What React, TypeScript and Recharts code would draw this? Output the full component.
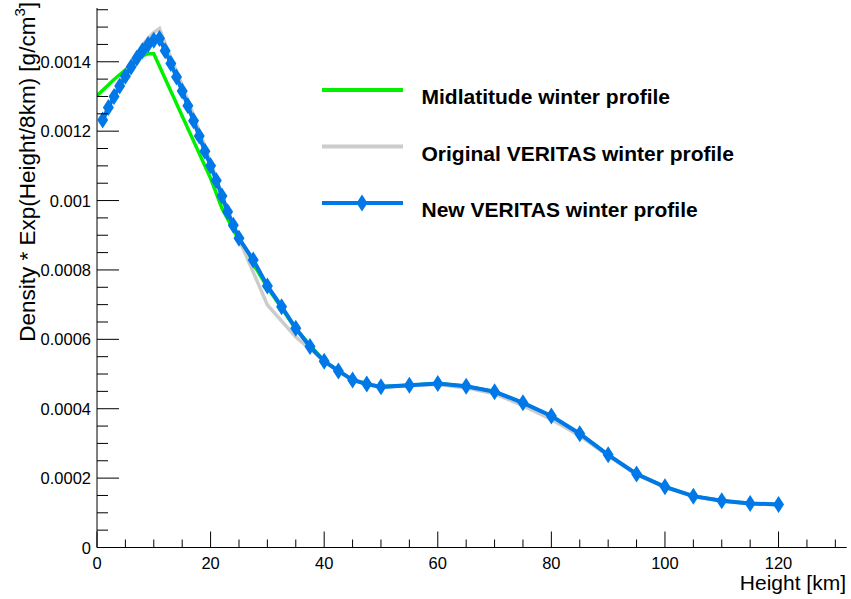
import { LineChart, Line, XAxis, YAxis, Legend } from "recharts";

// Midlatitude winter profile
const midHeight = [0, 3, 8, 9, 10, 20, 22, 25, 30, 35, 40, 45, 50, 55, 60, 65, 70, 75, 80, 85, 90, 95, 100, 105, 110, 115, 120];
const midDensity = [
    0.001302, 0.001349, 0.001418, 0.001423, 0.001423, 0.001064, 0.000978, 0.000885, 0.00075, 0.00063,
    0.000537, 0.000483, 0.000463, 0.000468, 0.000473, 0.000465, 0.000449, 0.000417, 0.000379, 0.000328,
    0.000267, 0.000212, 0.000175, 0.000148, 0.000135, 0.000127, 0.000124,
];

// Original VERITAS winter profile
const origHeight = [
    1, 2, 3, 4, 5, 6, 7, 8, 9, 10, 11, 12, 13, 14, 15, 16, 17, 18, 19, 20, 21, 22, 23, 24, 25,
    30, 35, 40, 45, 50, 55, 60, 65, 70, 75, 80, 85, 90, 95, 100, 105, 110, 115, 120,
];
const origDensity = [
    0.001235, 0.00127, 0.001305, 0.001338, 0.001368, 0.001397, 0.001424, 0.001448, 0.001468, 0.001484,
    0.001496, 0.001452, 0.001412, 0.001372, 0.001332, 0.001289, 0.001246, 0.001201, 0.001156, 0.001111,
    0.001065, 0.001018, 0.00097, 0.00093, 0.000889, 0.000699, 0.000607, 0.000537, 0.000482, 0.000462,
    0.000466, 0.00047, 0.00046, 0.000443, 0.000409, 0.000369, 0.000322, 0.000264, 0.00021, 0.000174,
    0.000147, 0.000134, 0.000126, 0.000123,
];

// New VERITAS winter profile
const newHeight = [
    1, 2, 3, 4, 5, 6, 7, 8, 9, 10, 11, 12, 13, 14, 15, 16, 17, 18, 19, 20, 21, 22, 23, 24, 25,
    27.5, 30, 32.5, 35, 37.5, 40, 42.5, 45, 47.5, 50, 55, 60, 65, 70, 75, 80, 85, 90, 95, 100, 105,
    110, 115, 120,
];
const newDensity = [
    0.001232, 0.001268, 0.0013, 0.00133, 0.001358, 0.001385, 0.00141, 0.001432, 0.00145, 0.001462,
    0.001467, 0.001432, 0.001395, 0.001356, 0.001316, 0.001273, 0.00123, 0.001186, 0.001142, 0.0011,
    0.001058, 0.001013, 0.000968, 0.000929, 0.000891, 0.000829, 0.000754, 0.000694, 0.000632, 0.000579,
    0.000537, 0.000509, 0.000483, 0.000471, 0.000463, 0.000468, 0.000473, 0.000465, 0.000449, 0.000417,
    0.000379, 0.000328, 0.000267, 0.000212, 0.000175, 0.000148, 0.000135, 0.000127, 0.000124,
];

const seriesNames = ["Midlatitude winter profile", "Original VERITAS winter profile", "New VERITAS winter profile"];
const seriesColors = ["#00f000", "#cccccc", "#0078e7"];

const xTicks = Array.from({ length: 27 }, (_, i) => i * 5);
const xLabels = ["0", "20", "40", "60", "80", "100", "120"];
const yTicks = Array.from({ length: 32 }, (_, i) => i * 0.00005);
const yLabels = ["0", "0.0002", "0.0004", "0.0006", "0.0008", "0.001", "0.0012", "0.0014"];

const toRows = (hs: number[], ds: number[]) => hs.map((h, i) => ({ h, d: ds[i] }));

const FONT = "'Liberation Sans', Arial, Helvetica, sans-serif";

const BottomTick = (props: any) => {
    const { x, y, index } = props;
    const major = index % 4 === 0;
    return (
        <g>
            <line x1={x} x2={x} y1={y} y2={y - (major ? 16 : 8)} stroke="#000" />
            {major && (
                <text x={x} y={y + 21} textAnchor="middle" fontSize={16.5} fontFamily={FONT} fill="#000">
                    {xLabels[index / 4]}
                </text>
            )}
        </g>
    );
};

const TopTick = (props: any) => {
    const { x, y, index } = props;
    const major = index % 4 === 0;
    return <line x1={x} x2={x} y1={y} y2={y + (major ? 16 : 8)} stroke="#000" />;
};

const LeftTick = (props: any) => {
    const { x, y, index } = props;
    const major = index % 4 === 0;
    return (
        <g>
            <line x1={x} x2={x + (major ? 22 : 11)} y1={y} y2={y} stroke="#000" />
            {major && (
                <text x={x - 6} y={y + 6} textAnchor="end" fontSize={16.5} fontFamily={FONT} fill="#000">
                    {yLabels[index / 4]}
                </text>
            )}
        </g>
    );
};

const RightTick = (props: any) => {
    const { x, y, index } = props;
    const major = index % 4 === 0;
    return <line x1={x} x2={x - (major ? 16 : 8)} y1={y} y2={y} stroke="#000" />;
};

const renderDiamond = (props: any) => {
    const { cx, cy, index } = props;
    return (
        <path
            key={`d-${index}`}
            d={`M${cx},${cy - 8.5}L${cx + 5.5},${cy}L${cx},${cy + 8.5}L${cx - 5.5},${cy}Z`}
            fill={seriesColors[2]}
        />
    );
};

const LegendBox = () => (
    <svg width={460} height={160}>
        {seriesNames.map((name, i) => {
            const y = 20 + i * 56.5;
            return (
                <g key={name}>
                    <line x1={22} x2={103} y1={y} y2={y} stroke={seriesColors[i]} strokeWidth={4} />
                    {i === 2 && <path d={`M62,${y - 8.5}L67.5,${y}L62,${y + 8.5}L56.5,${y}Z`} fill={seriesColors[2]} />}
                    <text x={121.5} y={y + 14} fontSize={21} fontWeight="bold" fontFamily={FONT} fill="#000">
                        {name}
                    </text>
                </g>
            );
        })}
    </svg>
);

export default function App() {
    return (
        <div style={{ position: "fixed", left: 0, top: 0, width: 851, height: 599, background: "#fff" }}>
            <LineChart width={851} height={599} margin={{ top: 8, right: 4.3, bottom: 0, left: 0 }}>
                <XAxis
                    xAxisId="main"
                    dataKey="h"
                    type="number"
                    domain={[0, 132]}
                    allowDataOverflow
                    ticks={xTicks}
                    interval={0}
                    height={51.5}
                    tickSize={0}
                    tickMargin={0}
                    tickLine={false}
                    axisLine={{ stroke: "#000" }}
                    tick={<BottomTick />}
                />
                <XAxis
                    xAxisId="top"
                    orientation="top"
                    type="number"
                    domain={[0, 132]}
                    allowDataOverflow
                    ticks={xTicks}
                    interval={0}
                    height={0}
                    tickSize={0}
                    tickMargin={0}
                    tickLine={false}
                    axisLine={{ stroke: "#000" }}
                    tick={<TopTick />}
                />
                <YAxis
                    yAxisId="main"
                    type="number"
                    domain={[0, 0.001555]}
                    allowDataOverflow
                    ticks={yTicks}
                    interval={0}
                    width={97}
                    tickSize={0}
                    tickMargin={0}
                    tickLine={false}
                    axisLine={{ stroke: "#000" }}
                    tick={<LeftTick />}
                />
                <YAxis
                    yAxisId="right"
                    orientation="right"
                    type="number"
                    domain={[0, 0.001555]}
                    allowDataOverflow
                    ticks={yTicks}
                    interval={0}
                    width={0}
                    tickSize={0}
                    tickMargin={0}
                    tickLine={false}
                    axisLine={{ stroke: "#000" }}
                    tick={<RightTick />}
                />
                <Line
                    xAxisId="main"
                    yAxisId="main"
                    data={toRows(midHeight, midDensity)}
                    dataKey="d"
                    name={seriesNames[0]}
                    type="linear"
                    stroke={seriesColors[0]}
                    strokeWidth={3.5}
                    dot={false}
                    isAnimationActive={false}
                />
                <Line
                    xAxisId="main"
                    yAxisId="main"
                    data={toRows(origHeight, origDensity)}
                    dataKey="d"
                    name={seriesNames[1]}
                    type="linear"
                    stroke={seriesColors[1]}
                    strokeWidth={3.5}
                    dot={false}
                    isAnimationActive={false}
                />
                <Line
                    xAxisId="main"
                    yAxisId="main"
                    data={toRows(newHeight, newDensity)}
                    dataKey="d"
                    name={seriesNames[2]}
                    type="linear"
                    stroke={seriesColors[2]}
                    strokeWidth={4}
                    dot={renderDiamond}
                    isAnimationActive={false}
                />
                <Legend
                    layout="vertical"
                    align="center"
                    verticalAlign="middle"
                    content={<LegendBox />}
                    wrapperStyle={{ left: 300, top: 70, width: 460, height: 160 }}
                />
            </LineChart>
            <svg width={851} height={599} style={{ position: "absolute", left: 0, top: 0, pointerEvents: "none" }}>
                <text x={846} y={590} textAnchor="end" fontSize={21} fontFamily={FONT} fill="#000">
                    Height [km]
                </text>
                <text
                    transform="translate(35,2) rotate(-90)"
                    textAnchor="end"
                    fontSize={22.5}
                    fontFamily={FONT}
                    fill="#000"
                >
                    Density * Exp(Height/8km) [g/cm
                    <tspan dy={-10} fontSize={15}>3</tspan>
                    <tspan dy={10}>]</tspan>
                </text>
            </svg>
        </div>
    );
}
